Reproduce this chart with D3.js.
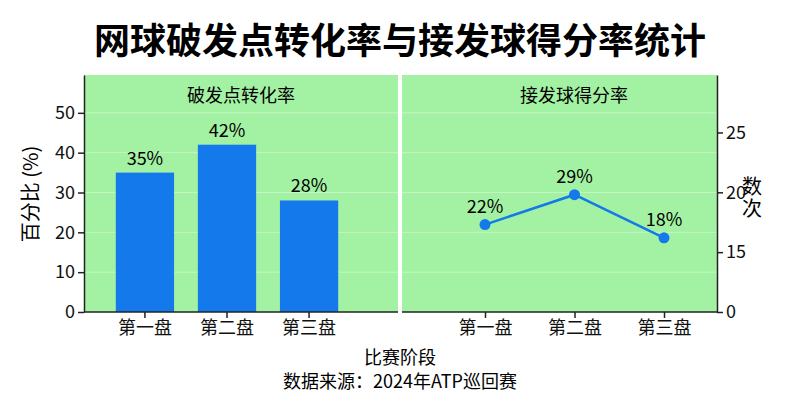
<!DOCTYPE html>
<html><head><meta charset="utf-8">
<script src="https://cdn.jsdelivr.net/npm/d3@7"></script>
<style>body{margin:0;background:#fff}text{font-family:"Noto Sans CJK SC",sans-serif}</style>
</head><body><svg id="c" width="800" height="400"></svg>
<script>
const categories=["第一盘","第二盘","第三盘"];
const breakRates=[35,42,28];
const breakLabels=["35%","42%","28%"];
const returnValues=[17.3,19.8,16.2];
const returnLabels=["22%","29%","18%"];
const leftTicks=[0,10,20,30,40,50];
const rightTicks=[10,15,20,25];
const rightTickLabels={10:"0",15:"15",20:"20",25:"25"};

const svg=d3.select("#c");
const pTop=75,pBottom=312;
const bg="#a3f2a3", blue="#1479ea";
svg.append("text").attr("x",400).attr("y",54).attr("text-anchor","middle").attr("font-size",36).attr("font-weight","bold").text("网球破发点转化率与接发球得分率统计");

const yL=d3.scaleLinear().domain([0,59.5]).range([pBottom,pTop]);
const yR=d3.scaleLinear().domain([10,29.8]).range([pBottom,pTop]);
const xL=d3.scaleBand().domain(categories).range([92,362]).padding(0.29);
const xR=d3.scalePoint().domain(categories).range([485,664]);

svg.append("rect").attr("x",84).attr("y",pTop).attr("width",314).attr("height",pBottom-pTop).attr("fill",bg);
svg.append("rect").attr("x",402).attr("y",pTop).attr("width",315).attr("height",pBottom-pTop).attr("fill",bg);
[[84,398],[402,717]].forEach(([a,b])=>{
  leftTicks.slice(1).forEach(t=>svg.append("line").attr("x1",a).attr("x2",b).attr("y1",yL(t)).attr("y2",yL(t)).attr("stroke","#fff").attr("stroke-opacity",0.35));
});
svg.append("text").attr("x",241).attr("y",102).attr("text-anchor","middle").attr("font-size",18).text("破发点转化率");
svg.append("text").attr("x",574).attr("y",102).attr("text-anchor","middle").attr("font-size",18).text("接发球得分率");

svg.selectAll(".bar").data(breakRates).enter().append("rect").attr("x",(d,i)=>xL(categories[i])).attr("width",xL.bandwidth()).attr("y",d=>yL(d)).attr("height",d=>pBottom-yL(d)).attr("fill",blue);
svg.selectAll(".bl").data(breakRates).enter().append("text").attr("x",(d,i)=>xL(categories[i])+xL.bandwidth()/2).attr("y",d=>yL(d)-8).attr("text-anchor","middle").attr("font-size",18).text((d,i)=>breakLabels[i]);

svg.append("path").datum(returnValues).attr("d",d3.line().x((d,i)=>xR(categories[i])).y(d=>yR(d))).attr("fill","none").attr("stroke",blue).attr("stroke-width",2.5);
svg.selectAll(".pt").data(returnValues).enter().append("circle").attr("cx",(d,i)=>xR(categories[i])).attr("cy",d=>yR(d)).attr("r",5.5).attr("fill",blue);
svg.selectAll(".pl").data(returnValues).enter().append("text").attr("x",(d,i)=>xR(categories[i])).attr("y",d=>yR(d)-12).attr("text-anchor","middle").attr("font-size",18).text((d,i)=>returnLabels[i]);

const styleAx=g=>{g.selectAll("text").attr("font-size",18).attr("fill","#111").style("font-family","'Noto Sans CJK SC',sans-serif");g.selectAll("line,path").attr("stroke","#222").attr("stroke-width",1.5);};
svg.append("g").attr("transform","translate(84,0)").call(d3.axisLeft(yL).tickValues(leftTicks).tickSize(6).tickSizeOuter(0)).call(styleAx);
svg.append("g").attr("transform","translate(717,0)").call(d3.axisRight(yR).tickValues(rightTicks).tickFormat(d=>rightTickLabels[d]).tickSize(6).tickSizeOuter(0)).call(styleAx);
svg.append("g").attr("transform",`translate(0,${pBottom})`).call(d3.axisBottom(xL).tickSize(6).tickSizeOuter(0)).call(styleAx).select(".domain").attr("d","M84,0H398");
svg.append("g").attr("transform",`translate(0,${pBottom})`).call(d3.axisBottom(xR).tickSize(6).tickSizeOuter(0)).call(styleAx).select(".domain").attr("d","M402,0H717");
svg.append("line").attr("x1",400).attr("x2",400).attr("y1",pTop).attr("y2",pBottom).attr("stroke","#fff").attr("stroke-width",3);

svg.append("text").attr("transform","translate(38,194) rotate(-90)").attr("text-anchor","middle").attr("font-size",20).text("百分比 (%)");
svg.append("text").attr("x",742).attr("y",194).attr("font-size",20).text("数");
svg.append("text").attr("x",742).attr("y",216).attr("font-size",20).text("次");
svg.append("text").attr("x",400).attr("y",364).attr("text-anchor","middle").attr("font-size",18).text("比赛阶段");
svg.append("text").attr("x",400).attr("y",388).attr("text-anchor","middle").attr("font-size",18).text("数据来源：2024年ATP巡回赛");
</script></body></html>
